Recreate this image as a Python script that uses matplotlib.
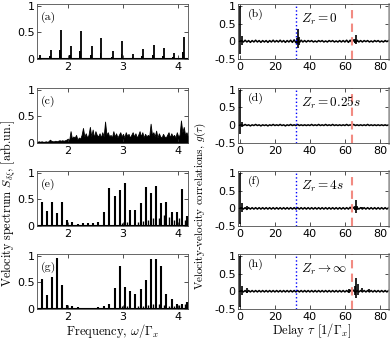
import numpy as np
import matplotlib
matplotlib.use("Agg")
import matplotlib.pyplot as plt

plt.rcParams['font.family'] = ['DejaVu Sans']
plt.rcParams['mathtext.fontset'] = 'cm'
plt.rcParams['axes.unicode_minus'] = False

# ---- spectra (left column) ----
# (a) equally spaced resonances
freq_a = [1.49, 1.69, 1.87, 2.05, 2.24, 2.43, 2.61, 2.81, 2.99, 3.19, 3.37, 3.56, 3.74, 3.92, 4.11]
spec_a = [0.08, 0.17, 0.55, 0.25, 0.53, 0.25, 0.40, 0.15, 0.33, 0.10, 0.18, 0.27, 0.20, 0.11, 0.42]

# (c) noisy spectrum, sampled every 0.025 from 1.45
spec_c = [0.02, 0.03, 0.02, 0.03, 0.02, 0.02, 0.03, 0.02, 0.03, 0.06,
          0.04, 0.03, 0.03, 0.04, 0.03, 0.04, 0.05, 0.04, 0.05, 0.04,
          0.05, 0.06, 0.08, 0.05, 0.22, 0.08, 0.12, 0.10, 0.15, 0.06,
          0.10, 0.08, 0.15, 0.28, 0.12, 0.18, 0.10, 0.15, 0.30, 0.12,
          0.25, 0.10, 0.22, 0.15, 0.12, 0.18, 0.10, 0.20, 0.12, 0.40,
          0.15, 0.20, 0.12, 0.15, 0.10, 0.22, 0.12, 0.18, 0.10, 0.15,
          0.20, 0.12, 0.17, 0.10, 0.20, 0.13, 0.17, 0.10, 0.15, 0.20,
          0.12, 0.18, 0.10, 0.15, 0.22, 0.12, 0.20, 0.10, 0.17, 0.12,
          0.15, 0.12, 0.36, 0.15, 0.20, 0.12, 0.23, 0.10, 0.18, 0.12,
          0.10, 0.17, 0.12, 0.10, 0.15, 0.20, 0.10, 0.18, 0.12, 0.15,
          0.10, 0.20, 0.12, 0.15, 0.42, 0.20, 0.30, 0.15, 0.20, 0.12]
freq_c = np.linspace(1.45, 4.175, len(spec_c))

# (e), (g) resonances on a finer comb
freq_eg = [1.53, 1.62, 1.71, 1.80, 1.90, 1.99, 2.08, 2.18, 2.27, 2.37, 2.46, 2.55, 2.65, 2.75, 2.85,
           2.94, 3.03, 3.13, 3.22, 3.32, 3.41, 3.50, 3.60, 3.69, 3.78, 3.88, 3.97, 4.07, 4.16]
spec_e = [0.45, 0.29, 0.46, 0.24, 0.45, 0.12, 0.08, 0.04, 0.06, 0.05, 0.05, 0.07, 0.27, 0.71, 0.56,
          0.68, 0.81, 0.30, 0.31, 0.43, 0.73, 0.62, 0.75, 0.44, 0.45, 0.27, 0.26, 0.69, 0.18]
spec_g = [0.57, 0.27, 0.59, 0.95, 0.45, 0.07, 0.05, 0.03, 0.02, 0.02, 0.02, 0.03, 0.06, 0.10, 0.40,
          0.80, 0.42, 0.34, 0.28, 0.37, 0.54, 0.93, 0.93, 0.80, 0.28, 0.18, 0.10, 0.10, 0.13]
# small side peaks
side_freq = [2.98, 3.08, 3.27, 3.37, 3.46, 3.55, 3.65, 3.74, 3.83, 3.92, 4.02, 4.12]
side_e = [0.06, 0.08, 0.07, 0.10, 0.12, 0.15, 0.15, 0.20, 0.17, 0.12, 0.15, 0.12]
side_g = [0.05, 0.06, 0.05, 0.06, 0.08, 0.10, 0.10, 0.08, 0.06, 0.05, 0.08, 0.10]

# ---- correlations (right column) ----
tau_grid = np.arange(0, 86, 1.0)
base_b = [0, 0.02, -0.02, 0.03, -0.02, 0.02, -0.03, 0.02, -0.02, 0.03, -0.02, 0.02, -0.03, 0.02, -0.02, 0.02,
          -0.03, 0.02, -0.02, 0.03, -0.02, 0.02, -0.02, 0.03, -0.02, 0.02, -0.03, 0.02, -0.02, 0.03, -0.03, 0.04,
          -0.04, 0.05, -0.04, 0.03, -0.02, 0.02, -0.02, 0.02, -0.01, 0.02, -0.02, 0.01, -0.02, 0.02, -0.01, 0.02,
          -0.02, 0.01, -0.02, 0.02, -0.01, 0.02, -0.02, 0.01, -0.02, 0.02, -0.02, 0.02, -0.02, 0.03, -0.03, 0.03,
          -0.03, 0.04, -0.04, 0.03, -0.02, 0.02, -0.02, 0.02, -0.01, 0.02, -0.02, 0.01, -0.02, 0.02, -0.01, 0.02,
          -0.02, 0.01, -0.02, 0.02, -0.01, 0.02]
base_d = [0, 0.01, -0.01, 0.02, -0.01, 0.01, -0.02, 0.01, -0.01, 0.02, -0.01, 0.01, -0.02, 0.01, -0.01, 0.01,
          -0.02, 0.01, -0.01, 0.02, -0.01, 0.01, -0.01, 0.02, -0.01, 0.01, -0.02, 0.01, -0.01, 0.02, -0.01, 0.01,
          -0.01, 0.02, -0.01, 0.01, -0.01, 0.01, -0.01, 0.01, -0.01, 0.02, -0.01, 0.01, -0.01, 0.02, -0.01, 0.01,
          -0.01, 0.02, -0.01, 0.01, -0.01, 0.02, -0.01, 0.01, -0.01, 0.01, -0.01, 0.01, -0.01, 0.02, -0.01, 0.01,
          -0.01, 0.02, -0.01, 0.01, -0.01, 0.01, -0.01, 0.01, -0.01, 0.02, -0.01, 0.01, -0.01, 0.01, -0.01, 0.01,
          -0.01, 0.01, -0.01, 0.01, -0.01, 0.01]
base_f = [0, 0.02, -0.02, 0.02, -0.03, 0.02, -0.02, 0.02, -0.02, 0.02, -0.02, 0.02, -0.02, 0.02, -0.02, 0.02,
          -0.02, 0.02, -0.02, 0.02, -0.02, 0.02, -0.02, 0.02, -0.02, 0.02, -0.02, 0.02, -0.02, 0.02, -0.02, 0.02,
          -0.02, 0.02, -0.02, 0.02, -0.02, 0.02, -0.02, 0.02, -0.02, 0.02, -0.02, 0.02, -0.02, 0.02, -0.02, 0.02,
          -0.02, 0.02, -0.02, 0.02, -0.02, 0.02, -0.02, 0.02, -0.02, 0.02, -0.02, 0.02, -0.02, 0.02, -0.02, 0.03,
          -0.03, 0.03, -0.03, 0.02, -0.02, 0.02, -0.02, 0.02, -0.02, 0.02, -0.02, 0.02, -0.02, 0.02, -0.02, 0.02,
          -0.02, 0.02, -0.02, 0.02, -0.02, 0.02]
base_h = base_f

# spikes: position, lower end, upper end
spk_tau_b = [0.3, 1.0, 32.6, 33.2, 33.8, 65.5, 66.3, 67.0]
spk_lo_b = [-0.35, -0.10, -0.08, -0.20, -0.10, -0.05, -0.08, -0.03]
spk_hi_b = [1.00, 0.15, 0.10, 0.35, 0.12, 0.06, 0.18, 0.05]
spk_tau_d = [0.3, 1.0]
spk_lo_d = [-0.25, -0.05]
spk_hi_d = [1.00, 0.10]
spk_tau_f = [0.3, 1.0, 4.0, 65.5, 66.3, 67.0, 70.0]
spk_lo_f = [-0.45, -0.10, -0.03, -0.05, -0.12, -0.05, -0.02]
spk_hi_f = [1.00, 0.15, 0.06, 0.08, 0.25, 0.06, 0.05]
spk_tau_h = [0.3, 1.0, 4.0, 62.5, 65.6, 66.3, 67.5, 70.0, 73.5]
spk_lo_h = [-0.45, -0.10, -0.06, -0.04, -0.10, -0.20, -0.10, -0.03, -0.02]
spk_hi_h = [1.00, 0.15, 0.10, 0.05, 0.15, 0.37, 0.20, 0.08, 0.06]

tau_marks = [32, 64]
zr_labels = [r'$Z_r = 0$', r'$Z_r = 0.25s$', r'$Z_r = 4s$', r'$Z_r \to \infty$']
left_tags = ['(a)', '(c)', '(e)', '(g)']
right_tags = ['(b)', '(d)', '(f)', '(h)']

fig = plt.figure(figsize=(3.9, 3.41), dpi=100)
bottoms = [0.827, 0.581, 0.337, 0.094]
h = 0.161
serif = 'cmr10'


def style(ax):
    ax.tick_params(direction='in', top=True, right=True, length=3, width=0.6,
                   labelsize=8, pad=2, colors='0.2', labelcolor='k')
    for s in ax.spines.values():
        s.set_color('0.3')
        s.set_linewidth(0.6)


left_axes = []
for i in range(4):
    ax = fig.add_axes([0.096, bottoms[i], 0.385, h])
    style(ax)
    ax.set_xlim(1.45, 4.17)
    ax.set_ylim(0, 1.03)
    ax.set_xticks([2, 3, 4])
    ax.set_yticks([0, 0.5, 1])
    ax.set_yticklabels(['0', '0.5', '1'])
    ax.text(0.025, 0.76, left_tags[i], transform=ax.transAxes, fontsize=8.5,
            family=serif, va='center')
    left_axes.append(ax)

ax = left_axes[0]
ax.vlines(freq_a, 0, spec_a, color='k', lw=1.3)
ax.bar(freq_a, [v * 0.3 for v in spec_a], width=-0.035, align='edge', color='k', lw=0)
ax.axhline(0, color='k', lw=1.5)

ax = left_axes[1]
ax.fill_between(freq_c, 0, spec_c, color='k', lw=0.6)
ax.axhline(0, color='k', lw=1.5)

for ax, main, side in [(left_axes[2], spec_e, side_e), (left_axes[3], spec_g, side_g)]:
    ax.vlines(freq_eg, 0, main, color='k', lw=1.5)
    ax.vlines(side_freq, 0, side, color='k', lw=1.0)
    ax.axhline(0, color='k', lw=1.5)

right_data = [(base_b, spk_tau_b, spk_lo_b, spk_hi_b),
              (base_d, spk_tau_d, spk_lo_d, spk_hi_d),
              (base_f, spk_tau_f, spk_lo_f, spk_hi_f),
              (base_h, spk_tau_h, spk_lo_h, spk_hi_h)]
for i in range(4):
    ax = fig.add_axes([0.6115, bottoms[i], 0.385, h])
    style(ax)
    base, st, slo, shi = right_data[i]
    ax.plot(tau_grid, base, color='k', lw=1.1)
    ax.vlines(st, slo, shi, color='k', lw=1.2)
    ax.axvline(tau_marks[0], color='blue', ls=':', lw=1.0)
    ax.axvline(tau_marks[1], color='#f28b82', ls=(0, (4, 2.5)), lw=1.5)
    ax.set_xlim(-0.8, 85)
    ax.set_ylim(-0.5, 1.05)
    ax.set_xticks([0, 20, 40, 60, 80])
    ax.set_yticks([-0.5, 0, 0.5, 1])
    ax.set_yticklabels(['-0.5', '0', '0.5', '1'])
    ax.spines['right'].set_color('0.6')
    ax.spines['right'].set_linewidth(1.8)
    ax.text(0.06, 0.82, right_tags[i], transform=ax.transAxes, fontsize=8.5,
            family=serif, va='center')
    ax.text(35, 0.62, zr_labels[i], fontsize=9.5, va='center')

fig.text(0.024, 0.405, r'Velocity spectrum $S_{\delta\xi}$, [arb.un.]', rotation=90,
         ha='center', va='center', fontsize=8.7, family=serif)
fig.text(0.513, 0.395, r'Velocity-velocity correlations, $g(\tau)$', rotation=90,
         ha='center', va='center', fontsize=8, family=serif)
fig.text(0.29, 0.03, r'Frequency, $\omega/\Gamma_x$', ha='center', va='center',
         fontsize=9, family=serif)
fig.text(0.80, 0.03, r'Delay $\tau$ [1/$\Gamma_x$]', ha='center', va='center',
         fontsize=9, family=serif)

fig.savefig('out.png', dpi=100)
